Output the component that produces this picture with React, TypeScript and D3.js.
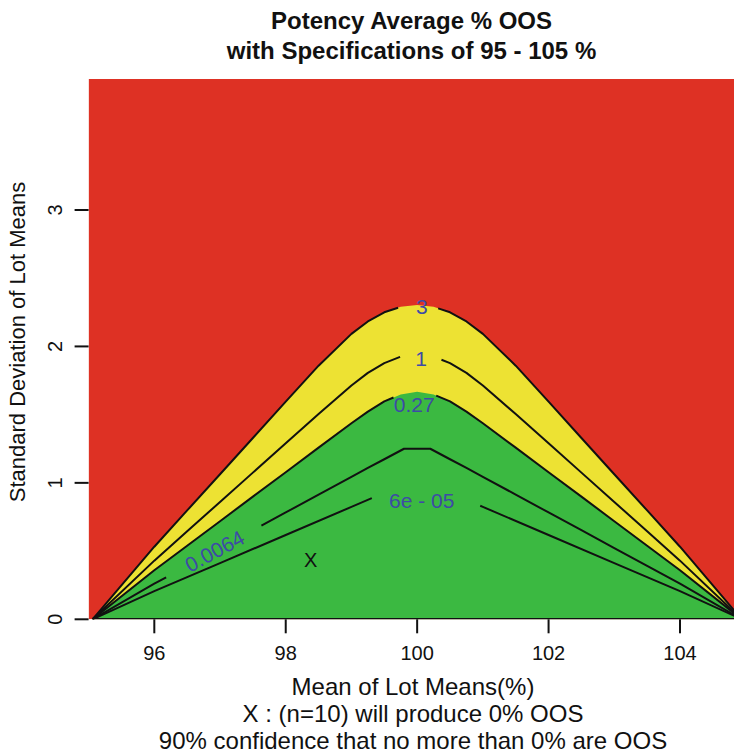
import React from "react";
import * as d3 from "d3";

// ---------- data ----------
const xTicks = [96, 98, 100, 102, 104];
const yTicks = [0, 1, 2, 3];
const xDomain: [number, number] = [95, 105];
const yDomain: [number, number] = [0, 3.96];

// contour lines: [mean, sd]
const line3: [number, number][] = [
  [95.06, 0], [96, 0.532], [96.5, 0.798], [97, 1.063], [97.5, 1.329], [98, 1.595],
  [98.5, 1.859], [99, 2.092], [99.25, 2.183], [99.5, 2.25], [99.75, 2.29], [100, 2.304],
  [100.25, 2.29], [100.5, 2.25], [100.75, 2.183], [101, 2.092], [101.5, 1.859], [102, 1.595],
  [102.5, 1.329], [103, 1.063], [103.5, 0.798], [104, 0.532], [104.94, 0],
];
const line1: [number, number][] = [
  [95.06, 0], [96, 0.43], [96.5, 0.645], [97, 0.86], [97.5, 1.075], [98, 1.29],
  [98.5, 1.504], [99, 1.713], [99.25, 1.806], [99.5, 1.878], [99.75, 1.925], [100, 1.941],
  [100.25, 1.925], [100.5, 1.878], [100.75, 1.806], [101, 1.713], [101.5, 1.504], [102, 1.29],
  [102.5, 1.075], [103, 0.86], [103.5, 0.645], [104, 0.43], [104.94, 0],
];
const line027: [number, number][] = [
  [95.06, 0], [96, 0.359], [96.5, 0.539], [97, 0.719], [97.5, 0.899], [98, 1.078],
  [98.5, 1.258], [99, 1.437], [99.25, 1.522], [99.5, 1.597], [99.75, 1.648], [100, 1.667],
  [100.25, 1.648], [100.5, 1.597], [100.75, 1.522], [101, 1.437], [101.5, 1.258], [102, 1.078],
  [102.5, 0.899], [103, 0.719], [103.5, 0.539], [104, 0.359], [104.94, 0],
];
const line00064: [number, number][] = [
  [95.06, 0], [96, 0.261], [96.5, 0.392], [97, 0.522], [97.5, 0.653], [98, 0.783],
  [98.5, 0.914], [99, 1.044], [99.25, 1.11], [99.5, 1.173], [99.8, 1.25], [100.2, 1.25],
  [100.5, 1.173], [100.75, 1.11], [101, 1.044], [101.5, 0.914], [102, 0.783], [102.5, 0.653],
  [103, 0.522], [103.5, 0.392], [104, 0.261], [104.94, 0],
];
const line6e05: [number, number][] = [
  [95.06, 0], [96, 0.206], [97, 0.412], [98, 0.618], [99, 0.824], [99.5, 0.927],
  [99.75, 0.976], [100, 1.001], [100.25, 0.976], [100.5, 0.927], [101, 0.824], [102, 0.618],
  [103, 0.412], [104, 0.206], [104.94, 0],
];

const levelLabels = ["3", "1", "0.27", "0.0064", "6e - 05"];
const levelLines = [line3, line1, line027, line00064, line6e05];
const labelGaps: [number, number][] = [
  [99.71, 100.32], [99.74, 100.37], [99.64, 100.29], [96.18, 97.63], [99.31, 100.96],
];
const labelPos: [number, number][] = [
  [100.07, 2.291], [100.06, 1.913], [99.956, 1.573], [96.916, 0.5007], [100.07, 0.8695],
];
const labelRotated = [false, false, false, true, false];

const markerPos: [number, number] = [98.38, 0.435];

const titleLines = ["Potency Average % OOS", "with Specifications of 95 - 105 %"];
const xLabelLines = [
  "Mean of Lot Means(%)",
  "X : (n=10) will produce 0% OOS",
  "90% confidence that no more than 0% are OOS",
];
const yLabel = "Standard Deviation of Lot Means";

// ---------- styles ----------
const W = 734;
const H = 754;
const FONT = "'Liberation Sans', Arial, Helvetica, sans-serif";
const RED = "#DE3124";
const YELLOW = "#EDE233";
const GREEN = "#3BB941";
const LABEL_BLUE = "#3D4BA6";

function interpAt(pts: [number, number][], mu: number): [number, number] {
  for (let i = 0; i < pts.length - 1; i++) {
    const [x0, y0] = pts[i];
    const [x1, y1] = pts[i + 1];
    if (mu >= x0 && mu <= x1) {
      const t = (mu - x0) / (x1 - x0);
      return [mu, y0 + t * (y1 - y0)];
    }
  }
  return pts[pts.length - 1];
}

function splitAtGap(pts: [number, number][], gap: [number, number]) {
  const [a, b] = gap;
  const left = pts.filter((p) => p[0] < a);
  left.push(interpAt(pts, a));
  const right: [number, number][] = [interpAt(pts, b)];
  pts.forEach((p) => {
    if (p[0] > b) right.push(p);
  });
  return [left, right];
}

export default function App() {
  const x = d3.scaleLinear().domain(xDomain).range([88.6, 745.7]);
  const y = d3.scaleLinear().domain(yDomain).range([619.3, 79]);

  const line = d3
    .line<[number, number]>()
    .x((d) => x(d[0]))
    .y((d) => y(d[1]));

  const area = (pts: [number, number][]) => line(pts) + "Z";

  const segments = levelLines.map((pts, i) => splitAtGap(pts, labelGaps[i]));

  return (
    <svg
      width={W}
      height={H}
      style={{ position: "absolute", left: 0, top: 0, background: "#fff" }}
      fontFamily={FONT}
    >
      <defs>
        <clipPath id="plotclip">
          <rect x={x(95)} y={y(yDomain[1])} width={x(105) - x(95)} height={y(0) - y(yDomain[1])} />
        </clipPath>
      </defs>
      <g clipPath="url(#plotclip)">
        <rect
          x={x(95)}
          y={y(yDomain[1])}
          width={x(105) - x(95)}
          height={y(0) - y(yDomain[1])}
          fill={RED}
        />
        <path d={area(line3)} fill={YELLOW} />
        <path d={area(line027)} fill={GREEN} />
        {segments.map((segs, i) =>
          segs.map((s, j) => (
            <path
              key={`${i}-${j}`}
              d={line(s) || ""}
              fill="none"
              stroke="#111"
              strokeWidth={2}
              strokeLinejoin="round"
            />
          ))
        )}
        <line
          x1={x(line3[0][0])}
          x2={x(line3[line3.length - 1][0])}
          y1={y(0)}
          y2={y(0)}
          stroke="#111"
          strokeWidth={2.4}
        />
        {levelLabels.map((t, i) => {
          const [mx, my] = labelPos[i];
          let angle = 0;
          if (labelRotated[i]) {
            const [a, b] = labelGaps[i];
            const pa = interpAt(levelLines[i], a);
            const pb = interpAt(levelLines[i], b);
            angle =
              (Math.atan2(y(pb[1]) - y(pa[1]), x(pb[0]) - x(pa[0])) * 180) / Math.PI;
          }
          return (
            <text
              key={t}
              transform={`translate(${x(mx)},${y(my)}) rotate(${angle})`}
              textAnchor="middle"
              dy="0.36em"
              fontSize={21}
              fill={LABEL_BLUE}
            >
              {t}
            </text>
          );
        })}
        <text
          x={x(markerPos[0])}
          y={y(markerPos[1])}
          dy="0.36em"
          textAnchor="middle"
          fontSize={20}
          fill="#111"
        >
          X
        </text>
      </g>

      {/* x axis ticks */}
      {xTicks.map((t) => (
        <g key={t}>
          <line x1={x(t)} x2={x(t)} y1={y(0)} y2={y(0) + 14} stroke="#111" strokeWidth={2} />
          <text x={x(t)} y={659.5} textAnchor="middle" fontSize={20} fill="#111">
            {t}
          </text>
        </g>
      ))}
      {/* y axis ticks */}
      {yTicks.map((t) => (
        <g key={t}>
          <line x1={x(95) - 14} x2={x(95)} y1={y(t)} y2={y(t)} stroke="#111" strokeWidth={2} />
          <text
            transform={`translate(62.3,${y(t)}) rotate(-90)`}
            textAnchor="middle"
            fontSize={20}
            fill="#111"
          >
            {t}
          </text>
        </g>
      ))}

      {/* titles */}
      {titleLines.map((t, i) => (
        <text
          key={t}
          x={411.5}
          y={29.3 + i * 30}
          textAnchor="middle"
          fontSize={24}
          fontWeight="bold"
          fill="#111"
        >
          {t}
        </text>
      ))}
      {xLabelLines.map((t, i) => (
        <text key={t} x={413} y={695 + i * 27} textAnchor="middle" fontSize={24} fill="#111">
          {t}
        </text>
      ))}
      <text
        transform={`translate(25,342) rotate(-90)`}
        textAnchor="middle"
        fontSize={22}
        fill="#111"
      >
        {yLabel}
      </text>
    </svg>
  );
}
